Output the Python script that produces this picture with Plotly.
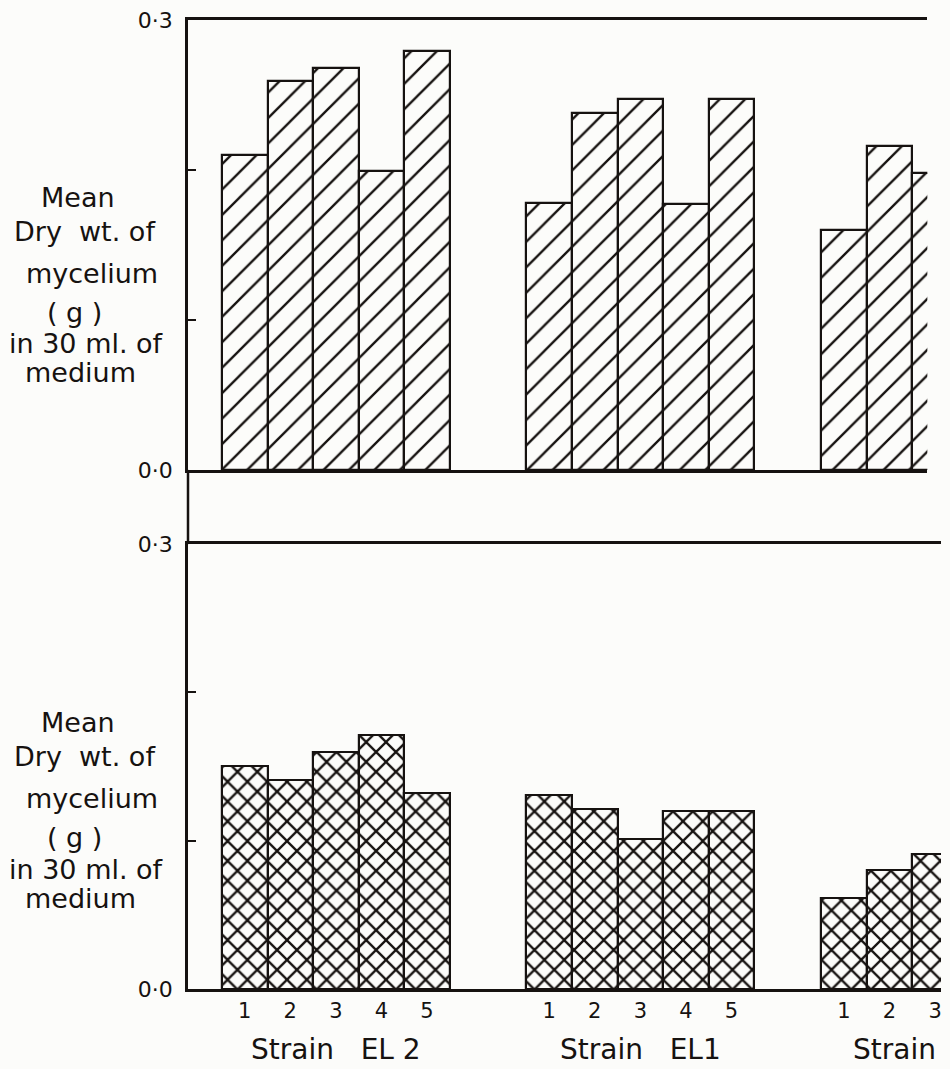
import plotly.graph_objects as go

# Mean dry weight of mycelium (g) in 30 ml of medium, treatments 1-5 per strain
treatments = ["1", "2", "3", "4", "5"]
strain_labels = ["Strain   EL 2", "Strain   EL1", "Strain"]

upper_el2 = [0.210, 0.259, 0.268, 0.199, 0.279]
upper_el1 = [0.178, 0.238, 0.247, 0.177, 0.247]
upper_s3 = [0.160, 0.216, 0.198]

lower_el2 = [0.150, 0.141, 0.160, 0.171, 0.132]
lower_el1 = [0.131, 0.121, 0.101, 0.120, 0.120]
lower_s3 = [0.061, 0.080, 0.091]

y_ticks = [0.0, 0.1, 0.2, 0.3]
y_ticktext = ["0·0", "", "", "0·3"]

title_lines_upper = ["Mean", "Dry  wt. of", "mycelium", "( g )", "in 30 ml. of", "medium"]
title_lines_lower = ["Mean", "Dry  wt. of", "mycelium", "( g )", "in 30 ml. of", "medium"]

# ---- layout constants (x in bar-width units) ----
INK = "#161210"
PAPER = "#fcfcfa"
FONT = "DejaVu Sans"
group_left = [0.746, 7.43, 13.9]
x_max_lower = 16.53
x_max_upper = 16.23

W, H = 950, 1069
ML, MR, MT, MB = 188, 8, 17, 80
plot_w = W - ML - MR
plot_h = H - MT - MB
upper_dom = [(H - MB - 468.3) / plot_h, 1.0]
lower_dom = [0.0, (H - MB - 542.7) / plot_h]

# pixel placement of the stacked axis-title lines (upper panel; lower is shifted)
title_line_y = [195, 229, 271, 310, 342, 371]
title_line_x = [78, 85, 92, 74, 86, 80]
panel_shift = 527


def centers(g, n):
    return [group_left[g] + i + 0.5 for i in range(n)]


def py(px):
    return (H - MB - px) / plot_h


def px_x(px):
    return (px - ML) / plot_w


fig = go.Figure()

upper_sets = [upper_el2, upper_el1, upper_s3]
lower_sets = [lower_el2, lower_el1, lower_s3]

for g, vals in enumerate(upper_sets):
    fig.add_trace(go.Bar(
        x=centers(g, len(vals)), y=vals, width=1.0,
        xaxis="x", yaxis="y",
        marker=dict(color=PAPER,
                    line=dict(color=INK, width=2.2),
                    pattern=dict(shape="/", size=18, solidity=0.13,
                                 fgcolor=INK, bgcolor=PAPER, fgopacity=1,
                                 fillmode="replace")),
        showlegend=False, hoverinfo="skip",
    ))

for g, vals in enumerate(lower_sets):
    fig.add_trace(go.Bar(
        x=centers(g, len(vals)), y=vals, width=1.0,
        xaxis="x2", yaxis="y2",
        marker=dict(color=PAPER,
                    line=dict(color=INK, width=2.2),
                    pattern=dict(shape="x", size=14, solidity=0.3,
                                 fgcolor=INK, bgcolor=PAPER, fgopacity=1,
                                 fillmode="replace")),
        showlegend=False, hoverinfo="skip",
    ))

tick_pos = []
tick_txt = []
for g, vals in enumerate(lower_sets):
    tick_pos += centers(g, len(vals))
    tick_txt += treatments[:len(vals)]

axis_common = dict(showgrid=False, zeroline=False, linecolor=INK, linewidth=2.5)
ytick_font = dict(size=22, family=FONT, color=INK)

fig.update_layout(
    width=W, height=H,
    margin=dict(l=ML, r=MR, t=MT, b=MB),
    paper_bgcolor=PAPER, plot_bgcolor=PAPER,
    font=dict(family=FONT, color=INK),
    bargap=0,
    xaxis=dict(domain=[0, x_max_upper / x_max_lower], range=[0, x_max_upper],
               anchor="y", showline=True, mirror=True, showticklabels=False,
               ticks="", **axis_common),
    yaxis=dict(domain=upper_dom, range=[0, 0.3], anchor="x",
               showline=True, mirror=False, tickvals=y_ticks, ticktext=y_ticktext,
               ticks="inside", ticklen=8, tickwidth=2, tickcolor=INK,
               tickfont=ytick_font, ticklabelstandoff=8, **axis_common),
    xaxis2=dict(domain=[0, 1], range=[0, x_max_lower], anchor="y2",
                showline=True, mirror=True, tickvals=tick_pos, ticktext=tick_txt,
                ticks="", tickfont=dict(size=21, family=FONT, color=INK),
                ticklabelstandoff=1, **axis_common),
    yaxis2=dict(domain=lower_dom, range=[0, 0.3], anchor="x2",
                showline=True, mirror=False, tickvals=y_ticks, ticktext=y_ticktext,
                ticks="inside", ticklen=8, tickwidth=2, tickcolor=INK,
                tickfont=ytick_font, ticklabelstandoff=8, **axis_common),
)

# vertical axis line continuing between the two panels
fig.add_shape(type="line", xref="paper", yref="paper",
              x0=0, x1=0, y0=lower_dom[1], y1=upper_dom[0],
              line=dict(color=INK, width=2.5))

# stacked y-axis titles, one annotation per lettered line
for lines, shift in [(title_lines_upper, 0), (title_lines_lower, panel_shift)]:
    for txt, ypx, xpx in zip(lines, title_line_y, title_line_x):
        fig.add_annotation(text=txt, xref="paper", yref="paper",
                           x=px_x(xpx), y=py(ypx + shift), showarrow=False,
                           xanchor="center", yanchor="middle",
                           font=dict(size=27, family=FONT, color=INK))

# strain group labels under the lower panel
label_y = py(1050)
for g, lab in enumerate(strain_labels):
    if g < 2:
        fig.add_annotation(text=lab, xref="x2", yref="paper",
                           x=group_left[g] + 2.5, y=label_y, showarrow=False,
                           xanchor="center", yanchor="middle",
                           font=dict(size=28, family=FONT, color=INK))
    else:
        fig.add_annotation(text=lab, xref="x2", yref="paper",
                           x=group_left[g] + 0.65, y=label_y, showarrow=False,
                           xanchor="left", yanchor="middle",
                           font=dict(size=28, family=FONT, color=INK))

fig.write_html("out.html")
